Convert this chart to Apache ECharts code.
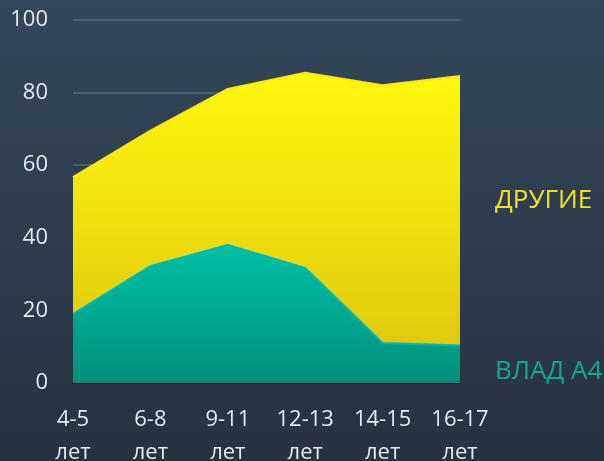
<!DOCTYPE html>
<html>
<head>
<meta charset="utf-8">
<script src="https://cdn.jsdelivr.net/npm/echarts@6/dist/echarts.min.js"></script>
<style>
  html, body { margin: 0; padding: 0; }
  #main { width: 604px; height: 461px; }
</style>
</head>
<body>
<div id="main"></div>
<script>
// данные
var categories = ['4-5\nлет', '6-8\nлет', '9-11\nлет', '12-13\nлет', '14-15\nлет', '16-17\nлет'];
var drugie = [56.7, 69.5, 81, 85.5, 82, 84.6];
var vlad = [19, 32.2, 38, 31.7, 11, 10.3];
var yTicks = [0, 20, 40, 60, 80, 100];

var chart = echarts.init(document.getElementById('main'));

var option = {
  backgroundColor: {
    type: 'linear', x: 0, y: 0, x2: 0, y2: 1,
    colorStops: [
      { offset: 0, color: '#34475b' },
      { offset: 1, color: '#28323f' }
    ]
  },
  animation: false,
  grid: { left: 73, right: 144, top: 20, bottom: 78, outerBoundsMode: 'none' },
  xAxis: {
    type: 'category',
    data: categories,
    boundaryGap: false,
    axisLine: { lineStyle: { color: '#1c232c', width: 2 } },
    axisTick: { show: false },
    axisLabel: {
      color: '#e6e9ec',
      fontFamily: 'Open Sans',
      fontSize: 22,
      lineHeight: 33,
      margin: 20,
      interval: 0
    }
  },
  yAxis: {
    type: 'value',
    min: yTicks[0],
    max: yTicks[yTicks.length - 1],
    interval: 20,
    axisLine: { show: false },
    axisTick: { show: false },
    splitLine: { lineStyle: { color: '#56677a', width: 1.5 } },
    axisLabel: {
      color: '#e6e9ec',
      fontFamily: 'Open Sans',
      fontSize: 22,
      margin: 25
    }
  },
  series: [
    {
      name: 'ДРУГИЕ',
      type: 'line',
      data: drugie,
      symbol: 'none',
      lineStyle: { color: '#f3e33a', width: 2 },
      areaStyle: {
        opacity: 1,
        color: {
          type: 'linear', x: 0, y: 0, x2: 0, y2: 1,
          colorStops: [
            { offset: 0, color: '#fff80e' },
            { offset: 1, color: '#dcc40c' }
          ]
        }
      }
    },
    {
      name: 'ВЛАД А4',
      type: 'line',
      data: vlad,
      symbol: 'none',
      lineStyle: { color: '#14b39a', width: 2 },
      areaStyle: {
        opacity: 1,
        color: {
          type: 'linear', x: 0, y: 0, x2: 0, y2: 1,
          colorStops: [
            { offset: 0, color: '#00c0a6' },
            { offset: 1, color: '#00917d' }
          ]
        }
      }
    }
  ],
  graphic: [
    {
      type: 'text', left: 495, top: 188,
      style: { text: 'ДРУГИЕ', fill: '#f4e02a', font: '26px "Open Sans"' }
    },
    {
      type: 'text', left: 495, top: 359,
      style: { text: 'ВЛАД А4', fill: '#13a78f', font: '26px "Open Sans"' }
    }
  ]
};

chart.setOption(option);
</script>
</body>
</html>
